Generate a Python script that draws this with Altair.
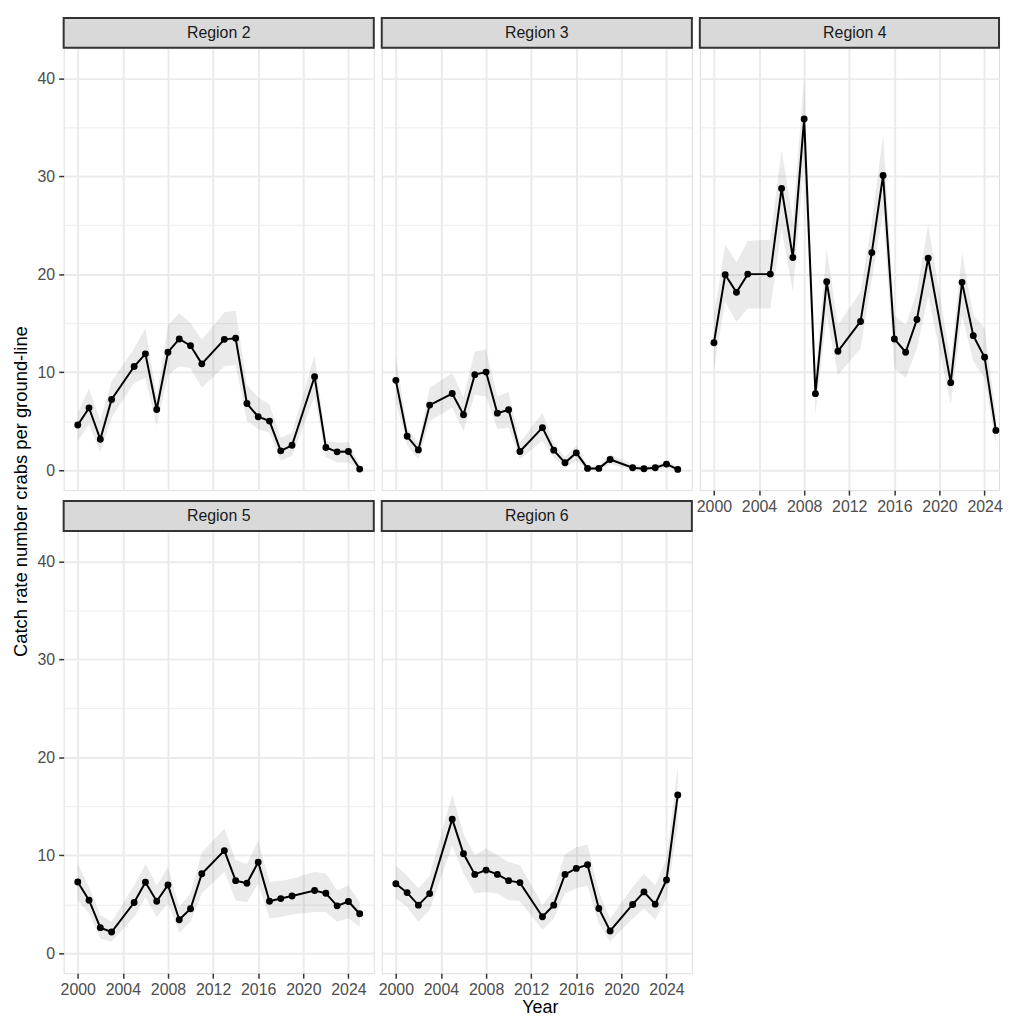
import altair as alt
import pandas as pd

FONT = "Liberation Sans"

years = [2000, 2001, 2002, 2003, 2005, 2006, 2007, 2008, 2009, 2010, 2011,
         2013, 2014, 2015, 2016, 2017, 2018, 2019, 2021, 2022, 2023, 2024, 2025]

regions = ["Region 2", "Region 3", "Region 4", "Region 5", "Region 6"]

r2_est = [4.6, 6.35, 3.14, 7.2, 10.57, 11.86, 6.18, 12.03, 13.38, 12.7, 10.84,
          13.34, 13.45, 6.79, 5.44, 5.0, 1.96, 2.53, 9.53, 2.3, 1.86, 1.89, 0.1]
r2_lo = [2.97, 4.66, 1.8, 5.34, 8.9, 9.4, 4.5, 9.7, 10.6, 10.4, 8.4,
         10.6, 10.7, 5.0, 4.2, 3.8, 0.95, 1.45, 7.5, 1.3, 0.78, 0.78, 0.0]
r2_hi = [5.85, 8.3, 5.07, 9.05, 12.4, 14.5, 7.5, 14.8, 16.0, 15.0, 13.3,
         16.1, 16.25, 8.7, 7.4, 6.7, 3.3, 3.8, 11.75, 3.0, 2.8, 2.87, 0.44]

r3_est = [9.16, 3.45, 2.06, 6.63, 7.81, 5.65, 9.74, 10.0, 5.81, 6.15, 1.89,
          4.33, 2.03, 0.74, 1.76, 0.17, 0.17, 1.08, 0.24, 0.14, 0.24, 0.61, 0.07]
r3_lo = [7.0, 2.5, 1.1, 5.0, 6.35, 4.0, 7.7, 7.5, 4.2, 4.3, 1.1,
         3.0, 1.3, 0.27, 0.95, 0.0, 0.0, 0.6, 0.0, 0.0, 0.0, 0.27, 0.0]
r3_hi = [11.7, 4.3, 2.8, 8.4, 9.9, 7.4, 12.1, 12.3, 7.5, 8.0, 2.8,
         5.85, 2.8, 1.3, 2.5, 0.44, 0.44, 1.6, 0.6, 0.44, 0.54, 0.95, 0.27]

r4_est = [13.0, 19.93, 18.14, 20.0, 20.0, 28.75, 21.69, 35.84, 7.8, 19.22, 12.13,
          15.17, 22.2, 30.07, 13.38, 12.03, 15.37, 21.62, 8.92, 19.16, 13.72, 11.52, 4.05]
r4_lo = [10.4, 17.2, 15.1, 16.5, 16.5, 24.6, 18.2, 31.35, 5.7, 15.8, 9.7,
         12.4, 19.5, 26.3, 10.4, 9.4, 12.4, 17.8, 6.7, 15.8, 11.1, 9.4, 2.6]
r4_hi = [15.8, 23.0, 21.2, 23.4, 23.5, 32.7, 25.6, 40.1, 9.73, 22.6, 14.8,
         18.2, 25.3, 34.2, 15.8, 14.8, 18.2, 25.1, 11.1, 22.2, 15.8, 14.5, 5.7]

r5_est = [7.26, 5.4, 2.6, 2.16, 5.17, 7.23, 5.3, 6.96, 3.41, 4.53, 8.1,
          10.47, 7.4, 7.13, 9.29, 5.3, 5.57, 5.84, 6.39, 6.11, 4.83, 5.27, 4.02]
r5_lo = [5.4, 4.05, 1.5, 1.2, 3.7, 5.7, 3.7, 5.1, 2.1, 3.2, 6.1,
         8.3, 5.4, 5.2, 7.1, 3.55, 3.7, 3.95, 4.2, 4.2, 3.2, 3.55, 2.7]
r5_hi = [9.1, 6.75, 3.9, 3.2, 6.9, 9.1, 6.9, 8.8, 4.7, 6.1, 10.3,
         12.7, 9.5, 9.1, 11.5, 7.26, 7.4, 7.6, 8.3, 8.1, 6.4, 6.9, 5.2]

r6_est = [7.09, 6.18, 4.9, 6.08, 13.68, 10.14, 8.04, 8.48, 8.04, 7.4, 7.2,
          3.72, 4.9, 8.04, 8.65, 9.02, 4.56, 2.26, 4.97, 6.25, 5.0, 7.47, 16.15]
r6_lo = [5.6, 4.7, 3.2, 4.4, 11.0, 8.1, 6.1, 6.25, 6.1, 5.4, 5.3,
         2.4, 3.5, 6.1, 6.6, 6.9, 3.0, 1.2, 3.5, 4.56, 3.4, 5.6, 13.0]
r6_hi = [8.95, 7.9, 6.6, 7.9, 16.2, 12.2, 10.0, 10.7, 10.0, 9.3, 9.0,
         4.9, 6.4, 10.1, 10.8, 11.1, 6.25, 3.5, 6.75, 8.1, 6.9, 9.6, 19.1]

x_grid = list(range(2000, 2027, 2))
y_grid = list(range(0, 41, 5))

series = {
    "Region 2": (r2_est, r2_lo, r2_hi),
    "Region 3": (r3_est, r3_lo, r3_hi),
    "Region 4": (r4_est, r4_lo, r4_hi),
    "Region 5": (r5_est, r5_lo, r5_hi),
    "Region 6": (r6_est, r6_lo, r6_hi),
}

rows = []
for reg in regions:
    est, lo, hi = series[reg]
    for y, e, l, h in zip(years, est, lo, hi):
        rows.append({"region": reg, "Year": y, "est": e, "lo": l, "hi": h})
df = pd.DataFrame(rows)

W, H, STRIP = 312, 445, 30
COL_GAP, ROW_GAP = 8, 11
X0, X1 = 1998.75, 2026.25
PXY = W / (X1 - X0)
YDOM = [-2.05, 43.1]
TICK_FS = 16
TITLE_FS = 18
Y_TITLE = "Catch rate number crabs per ground-line"


def panel(name, show_x, show_y, width=W, x_title=None, y_title=None):
    d = df[df.region == name]
    xdom = [X0, X0 + width / PXY]
    xv = [v for v in x_grid if v <= xdom[1]]
    if x_title:
        xt = dict(title=x_title, titleFont=FONT, titleFontSize=TITLE_FS, titleFontWeight="normal",
                  titleColor="black", titleX=479, titleAlign="center", titlePadding=2)
    else:
        xt = dict(title=None)
    if y_title:
        yt = dict(title=y_title, titleFont=FONT, titleFontSize=18.5, titleFontWeight="normal",
                  titleColor="black", titleY=-40, titleAlign="center", titlePadding=7)
    else:
        yt = dict(title=None)
    xaxis = alt.Axis(
        values=xv, grid=True, labels=show_x, ticks=show_x, domain=False,
        format="d", labelExpr="datum.value % 4 == 0 ? datum.label : ''",
        labelOverlap=False, labelFlush=False,
        labelFont=FONT, labelFontSize=TICK_FS, labelColor="#4D4D4D", labelPadding=3,
        tickColor="#333333", tickSize=5, tickWidth=1.5,
        tickOpacity={"condition": {"test": "datum.value % 4 != 0", "value": 0}, "value": 1},
        gridColor="#EBEBEB",
        gridWidth={"condition": {"test": "datum.value % 4 == 0", "value": 2}, "value": 1},
        **xt,
    )
    yaxis = alt.Axis(
        values=y_grid, grid=True, labels=show_y, ticks=show_y, domain=False,
        labelExpr="datum.value % 10 == 0 ? datum.label : ''",
        labelOverlap=False, labelFlush=False,
        labelFont=FONT, labelFontSize=TICK_FS, labelColor="#4D4D4D", labelPadding=4,
        tickColor="#333333", tickSize=5, tickWidth=1.5,
        tickOpacity={"condition": {"test": "datum.value % 10 != 0", "value": 0}, "value": 1},
        gridColor="#EBEBEB",
        gridWidth={"condition": {"test": "datum.value % 10 == 0", "value": 2}, "value": 1},
        **yt,
    )
    xenc = alt.X("Year:Q", scale=alt.Scale(domain=xdom, nice=False, zero=False), axis=xaxis)
    base = alt.Chart(d)
    ribbon = base.mark_area(color="#333333", opacity=0.1).encode(
        x=xenc,
        y=alt.Y("lo:Q", scale=alt.Scale(domain=YDOM, nice=False, zero=False), axis=yaxis),
        y2="hi:Q",
    )
    line = base.mark_line(color="black", strokeWidth=2).encode(x="Year:Q", y="est:Q")
    pts = base.mark_circle(color="black", opacity=1, size=48).encode(x="Year:Q", y="est:Q")
    sdf = pd.DataFrame({"region": [name]})
    strip = alt.Chart(sdf).mark_rect(fill="#D9D9D9", stroke="#333333", strokeWidth=2).encode(
        x=alt.value(0), x2=alt.value(width), y=alt.value(-STRIP), y2=alt.value(0)
    )
    stext = alt.Chart(sdf).mark_text(font=FONT, fontSize=TICK_FS, color="#1A1A1A",
                                     baseline="middle", align="center").encode(
        x=alt.value(W / 2), y=alt.value(-STRIP / 2), text="region:N"
    )
    return alt.layer(ribbon, line, pts, strip, stext).properties(width=width, height=H)


panels = [
    panel("Region 2", False, True),
    panel("Region 3", False, False),
    panel("Region 4", True, False, width=301),
    panel("Region 5", True, True, x_title="Year", y_title=Y_TITLE),
    panel("Region 6", True, False),
]

chart = alt.concat(*panels, columns=3, spacing={"row": STRIP + ROW_GAP, "column": COL_GAP},
                   bounds="flush").properties(
    padding={"left": 2, "top": 5, "right": 0, "bottom": 0},
).configure_view(stroke="#333333", strokeWidth=2).configure(background="white")

chart.save("out.html", embed_options={"renderer": "svg", "actions": False})
